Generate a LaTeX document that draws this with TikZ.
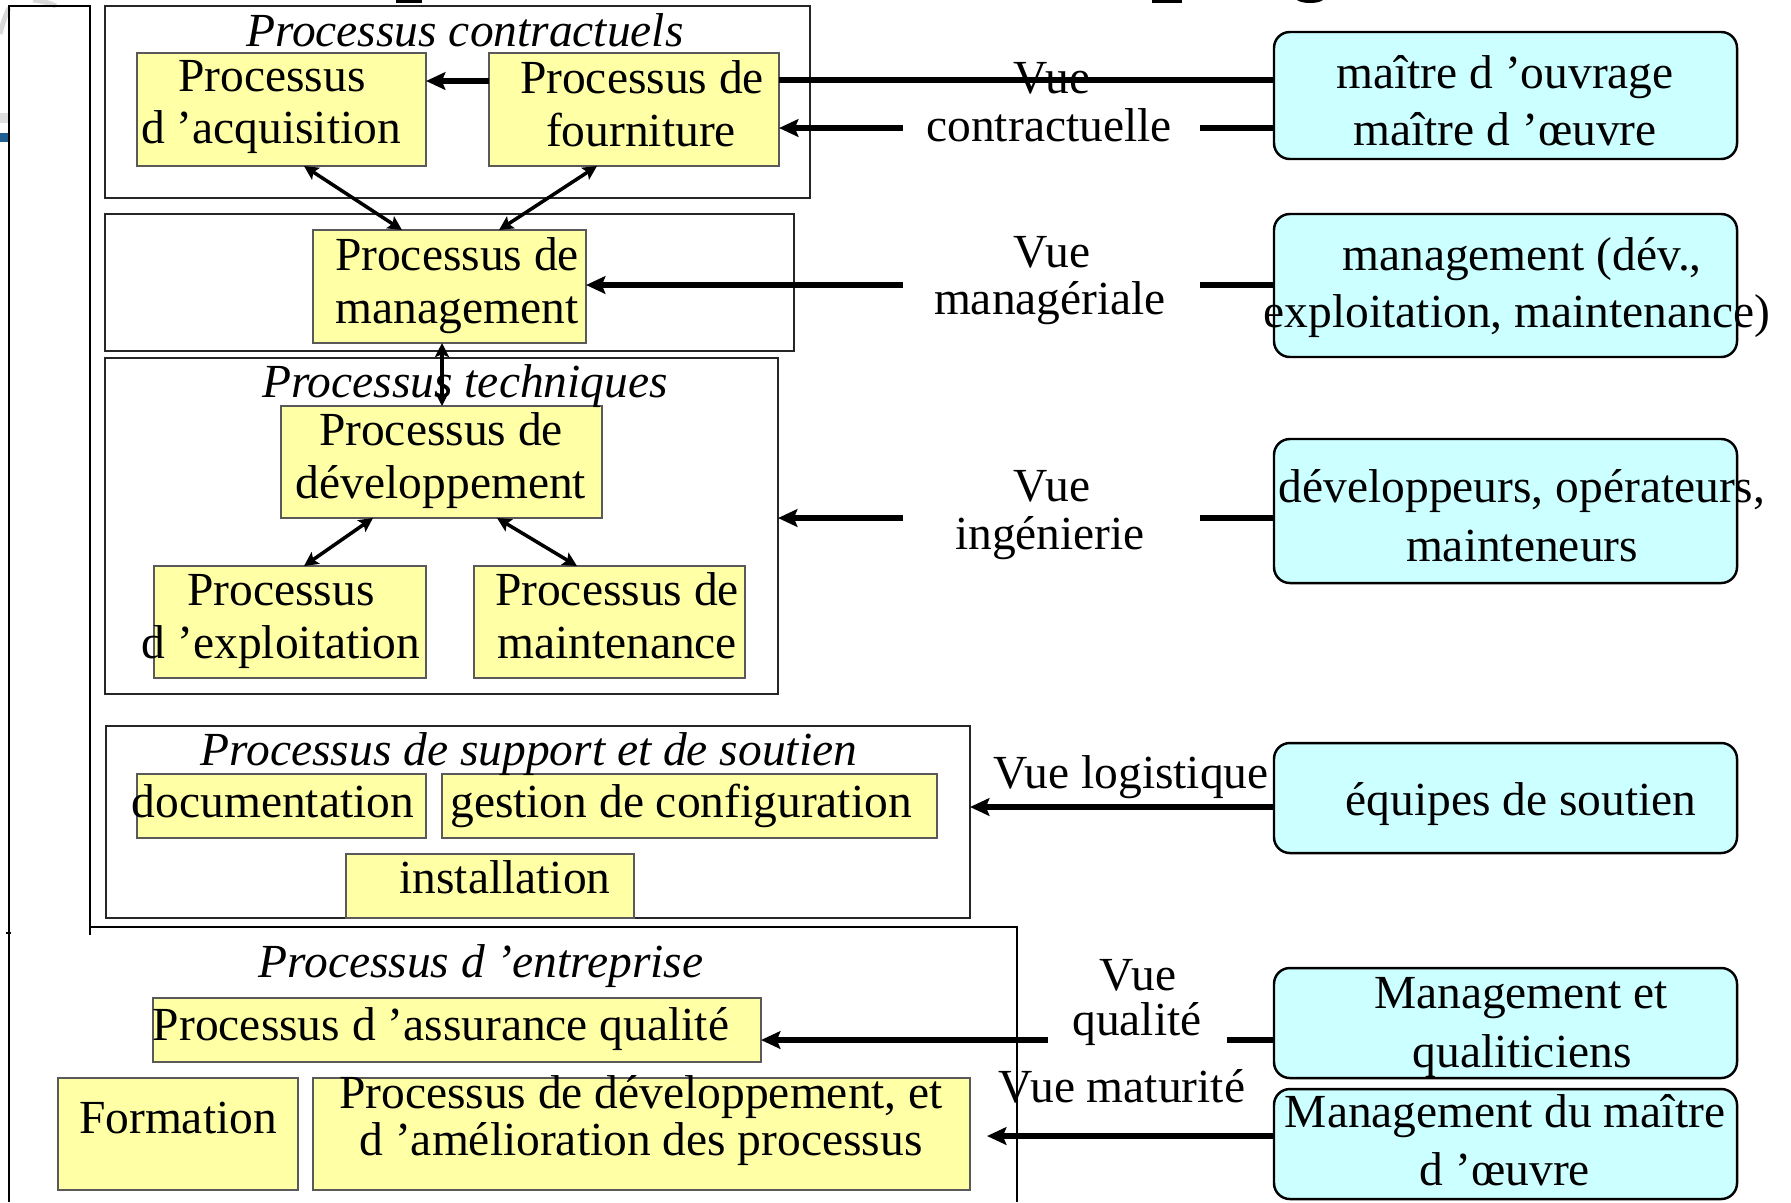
\documentclass[tikz,border=0pt]{standalone}
\usepackage{fontspec}
\setmainfont{Liberation Serif}
\usetikzlibrary{arrows.meta,fit}
\definecolor{yel}{RGB}{255,255,166}
\definecolor{cya}{RGB}{204,255,255}
\definecolor{logoblue}{RGB}{31,95,145}
\begin{document}
\begin{tikzpicture}[x=0.01cm,y=-0.01cm,
  outer/.style={draw=black!85, line width=0.6pt, inner sep=0pt, outer sep=0pt},
  ybox/.style={draw=black!65, fill=yel, line width=0.6pt, inner sep=0pt, outer sep=0pt},
  cbox/.style={draw=black, fill=cya, line width=0.7pt, rounded corners=4.5pt, inner sep=0pt, outer sep=0pt},
  txt/.style={inner sep=0pt, anchor=base, font=\fontsize{13.5}{16}\selectfont},
  ttl/.style={txt, font=\fontsize{13.5}{16}\selectfont\itshape},
  thk/.style={line width=1.5pt},
  thkarr/.style={thk, -{Stealth[length=5.5pt,width=5pt,inset=1pt]}},
  dbl/.style={line width=1pt, {Stealth[length=4pt,width=4pt,inset=0.8pt]}-{Stealth[length=4pt,width=4pt,inset=0.8pt]}}
]
\useasboundingbox (0,0) rectangle (1791,1202);

% logo remnants in the top-left corner
\draw[gray!30, line width=1.4pt] (0,34) .. controls (3,22) and (6,14) .. (9,8);
\draw[gray!30, line width=1.4pt] (33,0) .. controls (42,1) and (50,3) .. (56,6);
\fill[gray!25] (0,113) rectangle (8,123);
\fill[logoblue] (0,133) rectangle (8,142);
% cut-off heading glyphs along the top edge
\fill (396,0) rectangle (422,3);
\fill (1152,0) rectangle (1182,3);
\fill (1297,0) .. controls (1302,4) and (1318,4) .. (1323,0) -- cycle;

% left frame and enterprise frame
\draw[line width=0.6pt] (9,1202) -- (9,6) -- (90,6) -- (90,935);
\draw[line width=0.6pt] (6,933) -- (11,933);
\draw[line width=0.6pt] (90,927) -- (1017,927) -- (1017,1202);

% group frames
\node[outer, fit={(105,6) (810,198)}] (contr) {};
\node[outer, fit={(105,214) (794,351)}] (mgr) {};
\node[outer, fit={(105,358) (778,694)}] (tech) {};
\node[outer, fit={(106,726) (970,918)}] (supp) {};

% process boxes
\node[ybox, fit={(137,53) (426,166)}] (acq) {};
\node[ybox, fit={(489,53) (779,166)}] (four) {};
\node[ybox, fit={(313,230) (586,343)}] (mgmt) {};
\node[ybox, fit={(281,406) (602,518)}] (dev) {};
\node[ybox, fit={(154,566) (426,678)}] (expl) {};
\node[ybox, fit={(474,566) (745,678)}] (maint) {};
\node[ybox, fit={(137,774) (426,838)}] (doc) {};
\node[ybox, fit={(442,774) (937,838)}] (gest) {};
\node[ybox, fit={(346,854) (634,918)}] (inst) {};
\node[ybox, fit={(153,998) (761,1062)}] (assur) {};
\node[ybox, fit={(58,1078) (298,1190)}] (form) {};
\node[ybox, fit={(313,1078) (970,1190)}] (amel) {};

% actor boxes
\node[cbox, fit={(1274,32) (1737,159)}] (moa) {};
\node[cbox, fit={(1274,214) (1737,357)}] (mng) {};
\node[cbox, fit={(1274,439) (1737,583)}] (devs) {};
\node[cbox, fit={(1274,743) (1737,853)}] (equ) {};
\node[cbox, fit={(1274,968) (1737,1078)}] (qual) {};
\node[cbox, fit={(1274,1089) (1737,1199)}] (mmoe) {};

% links inside the process groups
\draw[thkarr] (four.west |- 0,81) -- (acq.east |- 0,81);
\draw[dbl] (acq.south -| 304,0) -- (mgmt.north -| 402,0);
\draw[dbl] (four.south -| 597,0) -- (mgmt.north -| 499,0);
\draw[dbl] (mgmt.south -| 442,0) -- (dev.north -| 442,0);
\draw[dbl] (dev.south -| 373,0) -- (expl.north -| 304,0);
\draw[dbl] (dev.south -| 497,0) -- (maint.north -| 577,0);

% view connectors
\coordinate (vcR) at (1200,128);
\coordinate (vcL) at (903,128);
\coordinate (vmR) at (1200,285);
\coordinate (vmL) at (903,285);
\coordinate (viR) at (1200,518);
\coordinate (viL) at (903,518);
\coordinate (vqR) at (1227,1040);
\coordinate (vqL) at (1048,1040);
\coordinate (vmat) at (987,1136);
\draw[thk] (four.east |- 0,80) -- (moa.west |- 0,80);
\draw[thk] (moa.west |- vcR) -- (vcR);
\draw[thkarr] (vcL) -- (four.east |- vcL);
\draw[thk] (mng.west |- vmR) -- (vmR);
\draw[thkarr] (vmL) -- (mgmt.east |- vmL);
\draw[thk] (devs.west |- viR) -- (viR);
\draw[thkarr] (viL) -- (tech.east |- viL);
\draw[thkarr] (equ.west |- 0,807) -- (supp.east |- 0,807);
\draw[thk] (qual.west |- vqR) -- (vqR);
\draw[thkarr] (vqL) -- (assur.east |- vqL);
\draw[thkarr] (mmoe.west |- vmat) -- (vmat);

% group titles
\node[ttl] (tcontr) at (465,46) {Processus contractuels};
\node[ttl] (ttech) at (465,397) {Processus techniques};
\node[ttl] (tsupp) at (529,765) {Processus de support et de soutien};
\node[ttl] (tent) at (481,977) {Processus d ’entreprise};

% process labels
\node[txt] (a1) at (272,91) {Processus};
\node[txt] (a2) at (271,143) {d ’acquisition};
\node[txt] (f1) at (642,93) {Processus de};
\node[txt] (f2) at (641,146) {fourniture};
\node[txt] (m1) at (457,270) {Processus de};
\node[txt] (m2) at (457,323) {management};
\node[txt] (d1) at (441,445) {Processus de};
\node[txt] (d2) at (441,498) {développement};
\node[txt] (e1) at (281,605) {Processus};
\node[txt] (e2) at (281,658) {d ’exploitation};
\node[txt] (n1) at (617,605) {Processus de};
\node[txt] (n2) at (617,658) {maintenance};
\node[txt] (doct) at (273,817) {documentation};
\node[txt] (gestt) at (681,817) {gestion de configuration};
\node[txt] (instt) at (505,893) {installation};
\node[txt] (assurt) at (441,1040) {Processus d ’assurance qualité};
\node[txt] (formt) at (178,1133) {Formation};
\node[txt] (am1) at (641,1108) {Processus de développement, et};
\node[txt] (am2) at (641,1155) {d ’amélioration des processus};

% view labels
\node[txt] (vc1) at (1052,93) {Vue};
\node[txt] (vc2) at (1049,141) {contractuelle};
\node[txt] (vm1) at (1052,267) {Vue};
\node[txt] (vm2) at (1050,314) {managériale};
\node[txt] (vi1) at (1052,501) {Vue};
\node[txt] (vi2) at (1050,549) {ingénierie};
\node[txt] (vl) at (1131,788) {Vue logistique};
\node[txt] (vq1) at (1138,990) {Vue};
\node[txt] (vq2) at (1137,1035) {qualité};
\node[txt] (vmt) at (1122,1102) {Vue maturité};

% actor labels
\node[txt] (o1) at (1505,88) {maître d ’ouvrage};
\node[txt] (o2) at (1505,145) {maître d ’œuvre};
\node[txt] (g1) at (1522,270) {management (dév.,};
\node[txt] (g2) at (1517,327) {exploitation, maintenance)};
\node[txt] (p1) at (1522,502) {développeurs, opérateurs,};
\node[txt] (p2) at (1522,561) {mainteneurs};
\node[txt] (s1) at (1521,815) {équipes de soutien};
\node[txt] (q1) at (1521,1008) {Management et};
\node[txt] (q2) at (1522,1067) {qualiticiens};
\node[txt] (w1) at (1505,1127) {Management du maître};
\node[txt] (w2) at (1505,1185) {d ’œuvre};
\end{tikzpicture}
\end{document}
